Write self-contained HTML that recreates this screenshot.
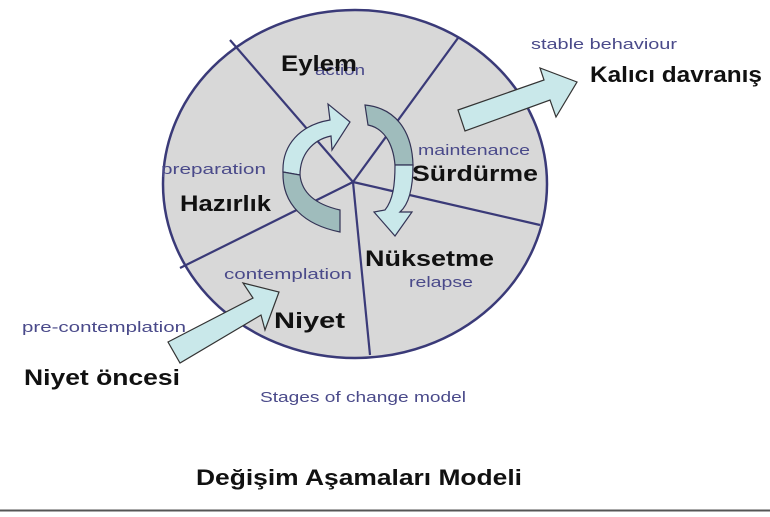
<!DOCTYPE html>
<html><head><meta charset="utf-8"><style>
body{margin:0;width:770px;height:512px;background:#fff;overflow:hidden}
svg text{font-family:"Liberation Sans",sans-serif}
.b{font-weight:bold;fill:#111;font-size:22px}
.s{fill:#4a4a8a;font-size:15px}
</style></head><body>
<svg width="770" height="512" viewBox="0 0 770 512">
<ellipse cx="355" cy="184" rx="192" ry="174" fill="#d8d8d8" stroke="#3a3a78" stroke-width="2.5"/>
<g stroke="#3a3a78" stroke-width="2.2" fill="none">
<line x1="353" y1="182" x2="230" y2="40"/>
<line x1="353" y1="182" x2="458" y2="38"/>
<line x1="353" y1="182" x2="540" y2="225"/>
<line x1="353" y1="182" x2="370" y2="355"/>
<line x1="353" y1="182" x2="180" y2="268"/>
</g>
<path d="M283,172 C282,145 300,125 330,120 L328,104 L350,122 L332,150 L331,136 C312,140 300,155 300,175 Z" fill="#c9e8ea" stroke="#335" stroke-width="1.2"/>
<path d="M283,172 C282,205 305,225 340,232 L340,210 C318,205 302,195 300,175 Z" fill="#9fbcbc" stroke="#335" stroke-width="1.2"/>
<path d="M365,105 C395,108 412,130 413,165 L395,165 C393,142 383,128 368,125 Z" fill="#9fbcbc" stroke="#335" stroke-width="1.2"/>
<path d="M413,165 C413,190 408,205 400,212 L412,212 L395,236 L374,212 L385,210 C393,200 395,185 395,165 Z" fill="#c9e8ea" stroke="#335" stroke-width="1.2"/>
<polygon points="458,110 544,80 540,68 577,82 556,117 550,100 465,131" fill="#c9e8ea" stroke="#333" stroke-width="1.2"/>
<polygon points="168,342 253,298 243,283 279,292 265,330 261,315 180,363" fill="#c9e8ea" stroke="#333" stroke-width="1.2"/>
<text class="s" x="315" y="75" textLength="50" lengthAdjust="spacingAndGlyphs">action</text>
<text class="b" x="281" y="71" textLength="76" lengthAdjust="spacingAndGlyphs">Eylem</text>
<text class="s" x="161" y="174" textLength="105" lengthAdjust="spacingAndGlyphs">preparation</text>
<text class="b" x="180" y="211" textLength="91" lengthAdjust="spacingAndGlyphs">Hazırlık</text>
<text class="s" x="418" y="155" textLength="112" lengthAdjust="spacingAndGlyphs">maintenance</text>
<text class="b" x="412" y="181" textLength="126" lengthAdjust="spacingAndGlyphs">Sürdürme</text>
<text class="b" x="365" y="266" textLength="129" lengthAdjust="spacingAndGlyphs">Nüksetme</text>
<text class="s" x="409" y="287" textLength="64" lengthAdjust="spacingAndGlyphs">relapse</text>
<text class="s" x="224" y="279" textLength="128" lengthAdjust="spacingAndGlyphs">contemplation</text>
<text class="b" x="274" y="328" textLength="71" lengthAdjust="spacingAndGlyphs">Niyet</text>
<text class="s" x="22" y="332" textLength="164" lengthAdjust="spacingAndGlyphs">pre-contemplation</text>
<text class="b" x="24" y="385" textLength="156" lengthAdjust="spacingAndGlyphs">Niyet öncesi</text>
<text class="s" x="531" y="49" textLength="146" lengthAdjust="spacingAndGlyphs">stable behaviour</text>
<text class="b" x="590" y="82" textLength="172" lengthAdjust="spacingAndGlyphs">Kalıcı davranış</text>
<text class="s" x="260" y="402" textLength="206" lengthAdjust="spacingAndGlyphs">Stages of change model</text>
<text class="b" x="196" y="485" textLength="326" lengthAdjust="spacingAndGlyphs">Değişim Aşamaları Modeli</text>
<line x1="0" y1="510.5" x2="770" y2="510.5" stroke="#555" stroke-width="2"/>
</svg>
</body></html>
